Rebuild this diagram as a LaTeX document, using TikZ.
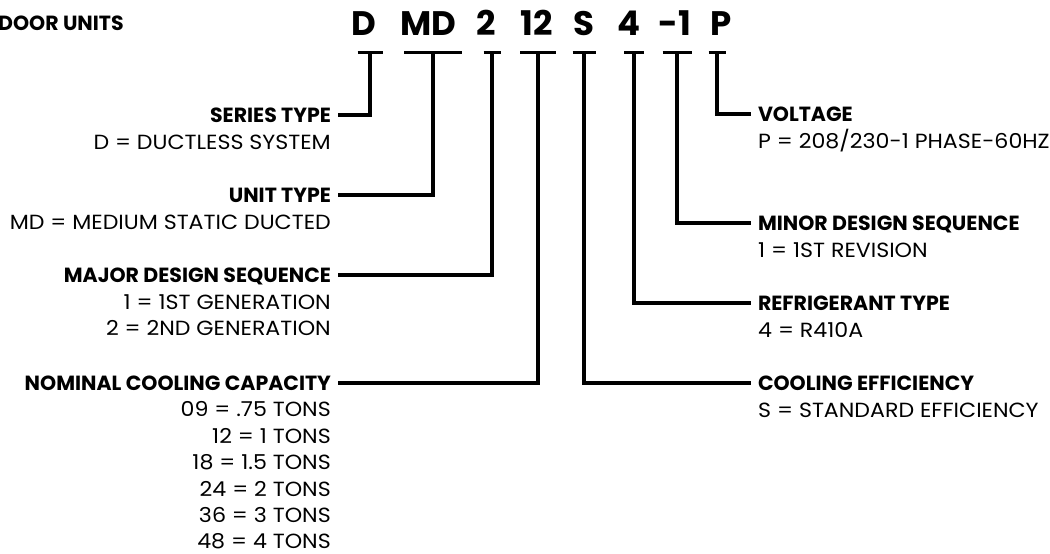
\documentclass[tikz,border=0pt]{standalone}
\usepackage{fontspec}
\setmainfont{Poppins}
\newfontfamily\descfont{Poppins}[FakeStretch=1.08]
\usetikzlibrary{positioning}

\begin{document}
\begin{tikzpicture}[
        x=1pt, y=-1pt,
        wire/.style={line width=3.2pt},
        code/.style={font=\fontsize{34}{34}\bfseries\selectfont, inner sep=0pt, anchor=base},
        lbl/.style={font=\fontsize{20.5}{24}\bfseries\selectfont, inner sep=0pt, outer xsep=7pt,
                    text height=15pt, text depth=0pt},
        desc/.style={font=\fontsize{20.5}{24}\descfont, inner sep=0pt},
      ]
      \useasboundingbox (0,0) rectangle (1050,554);

      % title, cut at the left edge
      \node[font=\fontsize{20.5}{24}\bfseries\selectfont, inner sep=0pt, anchor=base west] (title) at (-2,30) {DOOR UNITS};

      % model number
      \node[code] (cD) at (363.5,35) {D};
      \node[code] (cMD) at (428,35) {MD};
      \node[code] (ctwo) at (486,35) {2};
      \node[code] (ctwelve) at (537,35) {12};
      \node[code] (cS) at (584,35) {S};
      \node[code] (cfour) at (629,35) {4};
      \node[code] (cminus) at (675,35) {-1};
      \node[code] (cP) at (721,35) {P};

      % tick under each part
      \foreach \part/\x/\w in {D/370/12.5, MD/433/29, two/492/8.5, twelve/538/18,
                               S/584/11.5, four/634/10, minus/677/14.5, P/717/8.5} {
        \coordinate (t\part) at (\x,52.5);
        \draw[wire] ([xshift=-\w pt]t\part) -- ([xshift=\w pt]t\part);
      }

      % left side
      \node[lbl, anchor=east] (series) at (338,115) {SERIES TYPE};
      \node[desc, anchor=base east] (seriesv) at (331,149) {D = DUCTLESS SYSTEM};
      \node[lbl, anchor=east] (unit) at (338,195) {UNIT TYPE};
      \node[desc, anchor=base east] (unitv) at (331,229) {MD = MEDIUM STATIC DUCTED};
      \node[lbl, anchor=east] (major) at (338,275) {MAJOR DESIGN SEQUENCE};
      \node[desc, anchor=base east] (majorv1) at (331,309) {1 = 1ST GENERATION};
      \node[desc, anchor=base east] (majorv2) at (331,335.4) {2 = 2ND GENERATION};
      \node[lbl, anchor=east] (nominal) at (338,383) {NOMINAL COOLING CAPACITY};
      \foreach \txt [count=\i] in {09 = .75 TONS, 12 = 1 TONS, 18 = 1.5 TONS,
                                   24 = 2 TONS, 36 = 3 TONS, 48 = 4 TONS}
        \node[desc, anchor=base east] (nominalv\i) at (331,390.5+26.4*\i) {\txt};

      % right side
      \node[lbl, anchor=west] (volt) at (751,114) {VOLTAGE};
      \node[desc, anchor=base west] (voltv) at (758,148) {P = 208/230-1 PHASE-60HZ};
      \node[lbl, anchor=west] (minor) at (751,223) {MINOR DESIGN SEQUENCE};
      \node[desc, anchor=base west] (minorv) at (758,257) {1 = 1ST REVISION};
      \node[lbl, anchor=west] (refr) at (751,303) {REFRIGERANT TYPE};
      \node[desc, anchor=base west] (refrv) at (758,337) {4 = R410A};
      \node[lbl, anchor=west] (eff) at (751,383) {COOLING EFFICIENCY};
      \node[desc, anchor=base west] (effv) at (758,417) {S = STANDARD EFFICIENCY};

      % connectors
      \draw[wire] (tD) |- (series);
      \draw[wire] (tMD) |- (unit);
      \draw[wire] (ttwo) |- (major);
      \draw[wire] (ttwelve) |- (nominal);
      \draw[wire] (tS) |- (eff);
      \draw[wire] (tfour) |- (refr);
      \draw[wire] (tminus) |- (minor);
      \draw[wire] (tP) |- (volt);

    \end{tikzpicture}
\end{document}
